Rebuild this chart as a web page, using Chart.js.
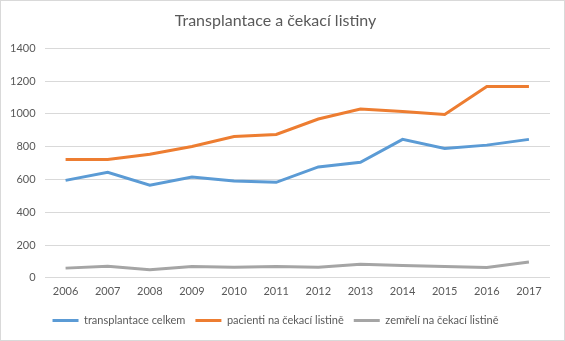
<!DOCTYPE html>
<html>
<head>
<meta charset="utf-8">
<script src="https://cdn.jsdelivr.net/npm/chart.js@4/dist/chart.umd.min.js"></script>
<style>
  body { margin: 0; background: #fff; }
  #wrap { width: 565px; height: 341px; box-sizing: border-box; border: 1px solid #d9d9d9; }
</style>
</head>
<body>
<div id="wrap"><canvas id="canvas" width="563" height="339"></canvas></div>
<script>
const years = ['2006', '2007', '2008', '2009', '2010', '2011', '2012', '2013', '2014', '2015', '2016', '2017'];
const transplantace = [594, 643, 564, 614, 590, 582, 676, 704, 844, 789, 809, 844];
const pacienti = [722, 722, 753, 801, 862, 874, 968, 1029, 1014, 996, 1167, 1167];
const zemreli = [59, 71, 49, 69, 65, 69, 65, 83, 75, 69, 63, 96];

const textColor = '#595959';
const fontName = 'Lato, "Open Sans", sans-serif';

function lineSet(label, values, color) {
    return {
        label: label,
        data: values,
        borderColor: color,
        backgroundColor: color,
        borderWidth: 3,
        pointRadius: 0,
        tension: 0,
        fill: false
    };
}

const data = {
    labels: years,
    datasets: [
        lineSet('transplantace celkem', transplantace, '#5b9bd5'),
        lineSet('pacienti na čekací listině', pacienti, '#ed7d31'),
        lineSet('zemřelí na čekací listině', zemreli, '#a5a5a5')
    ]
};

const config = {
    type: 'line',
    data: data,
    options: {
        responsive: false,
        animation: false,
        layout: { padding: { left: 0, right: 14, top: 2, bottom: 4 } },
        plugins: {
            title: {
                display: true,
                text: 'Transplantace a čekací listiny',
                color: textColor,
                font: { family: fontName, size: 16, weight: 'normal' },
                padding: { top: 8, bottom: 18 }
            },
            legend: {
                position: 'bottom',
                labels: {
                    usePointStyle: true,
                    pointStyle: 'line',
                    pointStyleWidth: 26,
                    color: textColor,
                    font: { family: fontName, size: 11 },
                    padding: 10
                }
            },
            tooltip: { enabled: false }
        },
        scales: {
            x: {
                offset: true,
                grid: { display: false, drawTicks: false },
                border: { display: false },
                ticks: { color: textColor, font: { family: fontName, size: 11 }, maxRotation: 0, padding: 7 }
            },
            y: {
                min: 0,
                max: 1400,
                grid: { color: '#d9d9d9', drawTicks: false },
                border: { display: false },
                ticks: {
                    stepSize: 200,
                    color: textColor,
                    font: { family: fontName, size: 11 },
                    padding: 9,
                    callback: (v) => String(v)
                }
            }
        }
    }
};

const chart = new Chart(document.getElementById('canvas'), config);
</script>
</body>
</html>
